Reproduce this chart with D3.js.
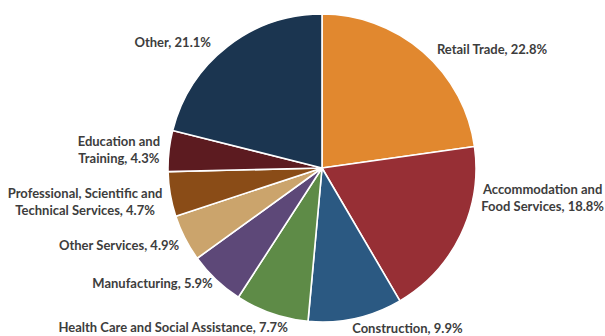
<!DOCTYPE html>
<html>
<head>
<meta charset="utf-8">
<script src="https://cdn.jsdelivr.net/npm/d3@7"></script>
<style>
  html, body { margin: 0; padding: 0; background: #fff; }
</style>
</head>
<body>
<script>
'use strict';

// data, clockwise from 12 o'clock
const categories = [
  'Retail Trade',
  'Accommodation and\nFood Services',
  'Construction',
  'Health Care and Social Assistance',
  'Manufacturing',
  'Other Services',
  'Professional, Scientific and\nTechnical Services',
  'Education and\nTraining',
  'Other'
];
const shares = [22.8, 18.8, 9.9, 7.7, 5.9, 4.9, 4.7, 4.3, 21.1];
const colors = ['#E1882F', '#972F35', '#2B5982', '#5E8B47', '#5D4878',
                '#CBA46C', '#8A4C17', '#5C1B20', '#1B3550'];

// small hand nudges where the original labels were moved off the arc
const nudge = [[6, 8], [10, -41], [-6, 0], [20, 4], [5, -4], [5, 3], [4, 7], [3, 2], [-9, 7]];

const W = 605, H = 336;
const cx = 322, cy = 168, R = 154;
const FONT = 'Lato, "Open Sans", sans-serif';
const TEXT = '#3D3D3D';

const svg = d3.select('body').append('svg')
  .attr('width', W).attr('height', H)
  .attr('viewBox', `0 0 ${W} ${H}`);
svg.append('rect').attr('width', W).attr('height', H).attr('fill', '#fff');

const pie = d3.pie().sort(null).value(d => d.v);
const arcs = pie(shares.map((v, i) => ({ v, i })));
const arc = d3.arc().innerRadius(0).outerRadius(R);

const g = svg.append('g').attr('transform', `translate(${cx},${cy})`);

g.selectAll('path.slice')
  .data(arcs)
  .join('path')
  .attr('class', 'slice')
  .attr('d', arc)
  .attr('fill', d => colors[d.data.i])
  .attr('stroke', '#fff')
  .attr('stroke-width', 1.6)
  .attr('stroke-linejoin', 'round');

// labels sit just outside the arc, anchored away from the pie
const LH = 17;
arcs.forEach(d => {
  const i = d.data.i;
  const mid = (d.startAngle + d.endAngle) / 2;
  const lr = R + 12;
  let x = lr * Math.sin(mid) + nudge[i][0];
  let y = -lr * Math.cos(mid) + nudge[i][1];
  const s = Math.sin(mid);
  const side = Math.abs(s) < 0.15 ? 0 : (s > 0 ? 1 : -1);

  const lines = categories[i].split('\n');
  lines[lines.length - 1] += ', ' + shares[i].toFixed(1) + '%';

  const lg = g.append('g');
  const ts = lines.map((t, k) => lg.append('text')
    .attr('y', y + (k - (lines.length - 1) / 2) * LH)
    .attr('dominant-baseline', 'middle')
    .attr('text-anchor', 'middle')
    .attr('font-family', FONT)
    .attr('font-size', 13)
    .attr('font-weight', 700)
    .attr('fill', TEXT)
    .text(t));
  const bw = d3.max(ts, t => t.node().getComputedTextLength());
  let bx = side > 0 ? x + bw / 2 : side < 0 ? x - bw / 2 : x;
  // keep the block inside the frame
  bx = Math.min(bx, W - cx - 1 - bw / 2);
  ts.forEach(t => t.attr('x', bx));
});
</script>
</body>
</html>
